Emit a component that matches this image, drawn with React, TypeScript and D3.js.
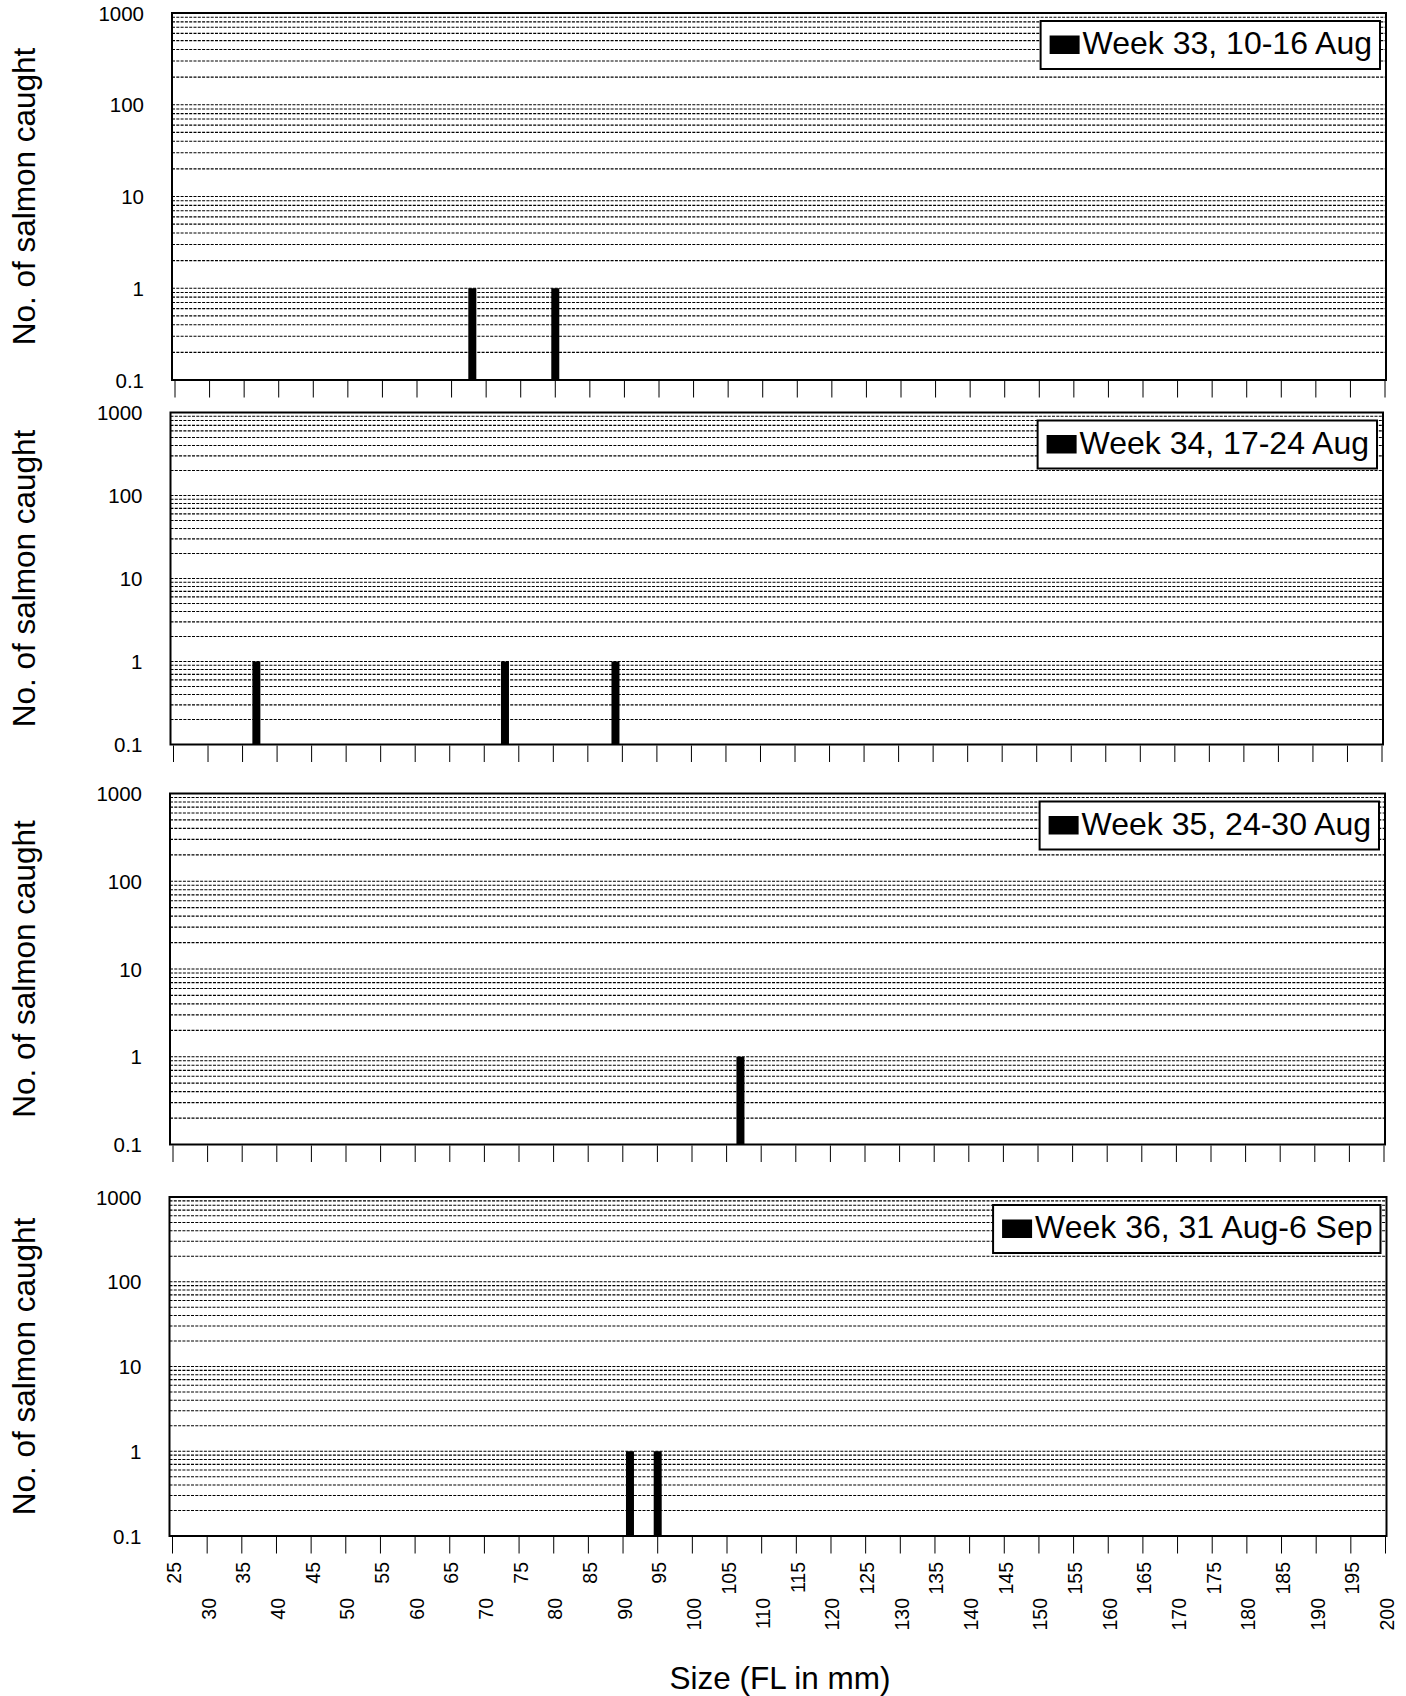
import React, { useEffect, useRef } from "react";
import * as d3 from "d3";

// ---- data ----
const weekLabels = [
  "Week 33, 10-16 Aug",
  "Week 34, 17-24 Aug",
  "Week 35, 24-30 Aug",
  "Week 36, 31 Aug-6 Sep",
];
const week33Sizes = [68, 80];
const week33Counts = [1, 1];
const week34Sizes = [37, 73, 89];
const week34Counts = [1, 1, 1];
const week35Sizes = [107];
const week35Counts = [1];
const week36Sizes = [91, 95];
const week36Counts = [1, 1];

const xTickValues = [
  25, 30, 35, 40, 45, 50, 55, 60, 65, 70, 75, 80, 85, 90, 95, 100, 105, 110,
  115, 120, 125, 130, 135, 140, 145, 150, 155, 160, 165, 170, 175, 180, 185,
  190, 195, 200,
];
const yTickValues = [0.1, 1, 10, 100, 1000];
const yTickLabels = ["0.1", "1", "10", "100", "1000"];
const yTitle = "No. of salmon caught";
const xTitle = "Size (FL in mm)";

const seriesSizes = [week33Sizes, week34Sizes, week35Sizes, week36Sizes];
const seriesCounts = [week33Counts, week34Counts, week35Counts, week36Counts];

// ---- layout ----
const W = 1406;
const H = 1696;
const panels = [
  { left: 172, right: 1386, top: 13, bottom: 380 },
  { left: 170.5, right: 1383, top: 412.5, bottom: 744.5 },
  { left: 170, right: 1385, top: 793.5, bottom: 1144.5 },
  { left: 169.5, right: 1386.5, top: 1197, bottom: 1536 },
];
const FONT = "'Liberation Sans', Arial, Helvetica, sans-serif";

export default function App() {
  const ref = useRef<SVGSVGElement | null>(null);

  useEffect(() => {
    const svg = d3.select(ref.current);
    svg.selectAll("*").remove();
    svg
      .append("rect")
      .attr("width", W)
      .attr("height", H)
      .attr("fill", "#fff");

    // minor gridline values from 0.2 to 900
    const gridVals: number[] = [];
    [0.1, 1, 10, 100].forEach((dec) => {
      for (let m = 1; m <= 9; m++) {
        const v = dec * m;
        if (v > 0.1 + 1e-9) gridVals.push(v);
      }
    });

    panels.forEach((p, i) => {
      const g = svg.append("g");
      const x = d3
        .scaleLinear()
        .domain([25, 200])
        .range([p.left + 3, p.right - 1]);
      const y = d3.scaleLog().domain([0.1, 1000]).range([p.bottom, p.top]);

      // gridlines
      g.selectAll("line.grid")
        .data(gridVals)
        .enter()
        .append("line")
        .attr("class", "grid")
        .attr("x1", p.left)
        .attr("x2", p.right)
        .attr("y1", (d) => y(d))
        .attr("y2", (d) => y(d))
        .attr("stroke", "#000")
        .attr("stroke-width", 1.1)
        .attr("stroke-dasharray", "3,1.3");

      // bars
      const sizes = seriesSizes[i];
      const counts = seriesCounts[i];
      const barW = 8;
      g.selectAll("rect.bar")
        .data(sizes.map((s, k) => ({ s, c: counts[k] })))
        .enter()
        .append("rect")
        .attr("class", "bar")
        .attr("x", (d) => x(d.s) - barW / 2)
        .attr("width", barW)
        .attr("y", (d) => y(d.c))
        .attr("height", (d) => y(0.1) - y(d.c))
        .attr("fill", "#000");

      // frame
      g.append("rect")
        .attr("x", p.left)
        .attr("y", p.top)
        .attr("width", p.right - p.left)
        .attr("height", p.bottom - p.top)
        .attr("fill", "none")
        .attr("stroke", "#000")
        .attr("stroke-width", 2);

      // x ticks
      g.selectAll("line.xt")
        .data(xTickValues)
        .enter()
        .append("line")
        .attr("class", "xt")
        .attr("x1", (d) => x(d))
        .attr("x2", (d) => x(d))
        .attr("y1", p.bottom + 1)
        .attr("y2", p.bottom + 17.5)
        .attr("stroke", "#000")
        .attr("stroke-width", 1);

      // y tick labels
      g.selectAll("text.yt")
        .data(yTickValues)
        .enter()
        .append("text")
        .attr("class", "yt")
        .attr("x", p.left - 28)
        .attr("y", (d) => y(d) + 7.5)
        .attr("text-anchor", "end")
        .attr("font-family", FONT)
        .attr("font-size", 20.5)
        .attr("fill", "#000")
        .text((d, k) => yTickLabels[k]);

      // y title
      const cy = (p.top + p.bottom) / 2;
      g.append("text")
        .attr("transform", `translate(35,${cy}) rotate(-90)`)
        .attr("text-anchor", "middle")
        .attr("font-family", FONT)
        .attr("font-size", 31.5)
        .attr("fill", "#000")
        .text(yTitle);

      // legend
      const lg = g.append("g");
      const txt = lg
        .append("text")
        .attr("font-family", FONT)
        .attr("font-size", 32)
        .attr("fill", "#000")
        .text(weekLabels[i]);
      const tw = (txt.node() as SVGTextElement).getComputedTextLength();
      const boxRight = p.right - 6;
      const boxTop = p.top + 8;
      const boxH = 48;
      const padL = 9;
      const sqW = 30;
      const gap = 3;
      const padR = 8;
      const boxW = padL + sqW + gap + tw + padR;
      const boxLeft = boxRight - boxW;
      const baseline = boxTop + 33;
      lg.insert("rect", "text")
        .attr("x", boxLeft)
        .attr("y", boxTop)
        .attr("width", boxW)
        .attr("height", boxH)
        .attr("fill", "#fff")
        .attr("stroke", "#000")
        .attr("stroke-width", 2);
      lg.append("rect")
        .attr("x", boxLeft + padL)
        .attr("y", baseline - 18.5)
        .attr("width", sqW)
        .attr("height", 18.5)
        .attr("fill", "#000");
      txt.attr("x", boxLeft + padL + sqW + gap).attr("y", baseline);

      // x tick labels on bottom panel only
      if (i === panels.length - 1) {
        g.selectAll("text.xl")
          .data(xTickValues)
          .enter()
          .append("text")
          .attr("class", "xl")
          .attr("transform", (d, k) => {
            const ty = k % 2 === 0 ? 1562 : 1598;
            return `translate(${x(d) + 8.5},${ty}) rotate(-90)`;
          })
          .attr("text-anchor", "end")
          .attr("font-family", FONT)
          .attr("font-size", 19.5)
          .attr("fill", "#000")
          .text((d) => String(d));

        g.append("text")
          .attr("x", 780)
          .attr("y", 1689)
          .attr("text-anchor", "middle")
          .attr("font-family", FONT)
          .attr("font-size", 31.5)
          .attr("fill", "#000")
          .text(xTitle);
      }
    });
  }, []);

  return (
    <svg
      ref={ref}
      width={W}
      height={H}
      style={{ position: "absolute", left: 0, top: 0, display: "block" }}
    />
  );
}
